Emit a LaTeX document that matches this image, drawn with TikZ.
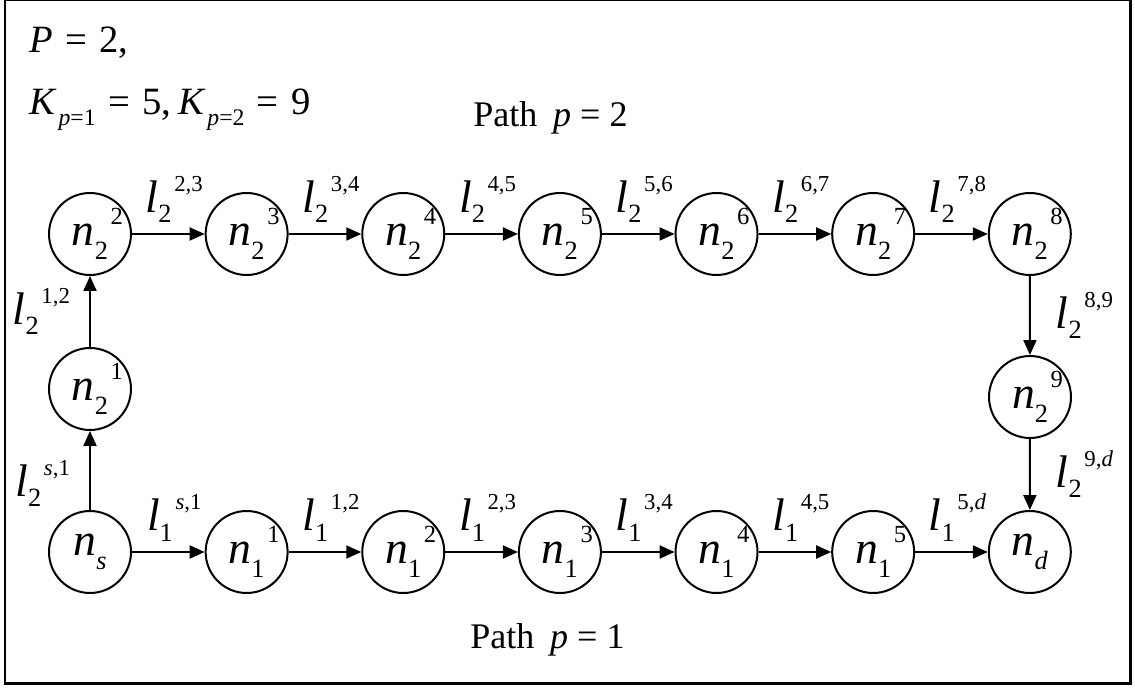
\documentclass[tikz,border=0pt]{standalone}
\usepackage{fontspec}
\setmainfont{Liberation Serif}
\usetikzlibrary{
  arrows.meta,
  positioning
}
% node text: n with subscript and a superscript hung to the right
\newcommand{\nlab}[2]{\textit{n}\raisebox{-8pt}{\fontsize{15}{16}\selectfont #1}\makebox[0pt][l]{\kern1.5pt\raisebox{12pt}{\fontsize{14}{15}\selectfont #2}}}
% link text: l with subscript and superscript
\newcommand{\llab}[2]{\textit{l}\raisebox{-5.7pt}{\fontsize{15}{16}\selectfont #1}\kern1.5pt\raisebox{12pt}{\fontsize{13}{14}\selectfont #2}}
\newcommand{\eq}{\hspace{0.32em}=\hspace{0.32em}}

\begin{document}
\begin{tikzpicture}[
      x=0.02cm, y=-0.02cm,
      node distance=1.4533cm,
      vertice/.style={draw, circle, line width=0.04cm, minimum size=1.64cm, inner sep=0pt, font=\fontsize{26}{28}\selectfont},
      elo/.style={-{Triangle[length=0.3cm, width=0.26cm]}, line width=0.04cm},
      rotulo/.style={inner sep=0pt, font=\fontsize{26}{28}\selectfont},
      cabecalho/.style={inner sep=0pt, anchor=base west, font=\fontsize{22}{24}\selectfont},
      caminho/.style={inner sep=0pt, anchor=base west, font=\fontsize{20.5}{22}\selectfont}
  ]
    \useasboundingbox (0,0) rectangle (1135,688);
    \draw [line width=0.06cm] (5,0) rectangle (1130,683);

    % Cabecalho
    \node [cabecalho] (cabP) at (29,53) {\textit{P}\eq 2,};
    \node [cabecalho] (cabK) at (29,115) {\textit{K}\kern1pt\raisebox{-6pt}{\fontsize{13.5}{14}\selectfont\textit{p}=1}\eq 5,\kern4pt\textit{K}\kern1pt\raisebox{-6pt}{\fontsize{13.5}{14}\selectfont\textit{p}=2}\eq 9};
    \node [caminho] (cam2) at (473,127) {Path\hspace{9pt}\textit{p} = 2};
    \node [caminho] (cam1) at (470,648) {Path\hspace{9pt}\textit{p} = 1};

    % Caminho p = 2
    \node [vertice] (n22) at (90,234) {\nlab{2}{2}};
    \node [vertice, right=of n22] (n23) {\nlab{2}{3}};
    \node [vertice, right=of n23] (n24) {\nlab{2}{4}};
    \node [vertice, right=of n24] (n25) {\nlab{2}{5}};
    \node [vertice, right=of n25] (n26) {\nlab{2}{6}};
    \node [vertice, right=of n26] (n27) {\nlab{2}{7}};
    \node [vertice, right=of n27] (n28) {\nlab{2}{8}};
    \node [vertice] (n21) at (90,389) {\nlab{2}{1}};
    \node [vertice] (n29) at (1030,397) {\nlab{2}{9}};

    % Caminho p = 1
    \node [vertice] (ns) at (90,552) {\nlab{\textit{s}}{}};
    \node [vertice, right=of ns] (n11) {\nlab{1}{1}};
    \node [vertice, right=of n11] (n12) {\nlab{1}{2}};
    \node [vertice, right=of n12] (n13) {\nlab{1}{3}};
    \node [vertice, right=of n13] (n14) {\nlab{1}{4}};
    \node [vertice, right=of n14] (n15) {\nlab{1}{5}};
    \node [vertice, right=of n15] (nd) {\nlab{\textit{d}}{}};

    % Enlaces p = 2
    \draw [elo] (ns) -- node [rotulo, left=0.38cm, pos=0.34] {\llab{2}{\textit{s},1}} (n21);
    \draw [elo] (n21) -- node [rotulo, left=0.38cm] {\llab{2}{1,2}} (n22);
    \draw [elo] (n22) -- node [rotulo, above=0.2cm, xshift=0.12cm] {\llab{2}{2,3}} (n23);
    \draw [elo] (n23) -- node [rotulo, above=0.2cm, xshift=0.12cm] {\llab{2}{3,4}} (n24);
    \draw [elo] (n24) -- node [rotulo, above=0.2cm, xshift=0.12cm] {\llab{2}{4,5}} (n25);
    \draw [elo] (n25) -- node [rotulo, above=0.2cm, xshift=0.12cm] {\llab{2}{5,6}} (n26);
    \draw [elo] (n26) -- node [rotulo, above=0.2cm, xshift=0.12cm] {\llab{2}{6,7}} (n27);
    \draw [elo] (n27) -- node [rotulo, above=0.2cm, xshift=0.12cm] {\llab{2}{7,8}} (n28);
    \draw [elo] (n28) -- node [rotulo, right=0.5cm] {\llab{2}{8,9}} (n29);
    \draw [elo] (n29) -- node [rotulo, right=0.5cm] {\llab{2}{9,\textit{d}}} (nd);

    % Enlaces p = 1
    \draw [elo] (ns) -- node [rotulo, above=0.2cm, xshift=0.12cm] {\llab{1}{\textit{s},1}} (n11);
    \draw [elo] (n11) -- node [rotulo, above=0.2cm, xshift=0.12cm] {\llab{1}{1,2}} (n12);
    \draw [elo] (n12) -- node [rotulo, above=0.2cm, xshift=0.12cm] {\llab{1}{2,3}} (n13);
    \draw [elo] (n13) -- node [rotulo, above=0.2cm, xshift=0.12cm] {\llab{1}{3,4}} (n14);
    \draw [elo] (n14) -- node [rotulo, above=0.2cm, xshift=0.12cm] {\llab{1}{4,5}} (n15);
    \draw [elo] (n15) -- node [rotulo, above=0.2cm, xshift=0.12cm] {\llab{1}{5,\textit{d}}} (nd);
  \end{tikzpicture}
\end{document}
